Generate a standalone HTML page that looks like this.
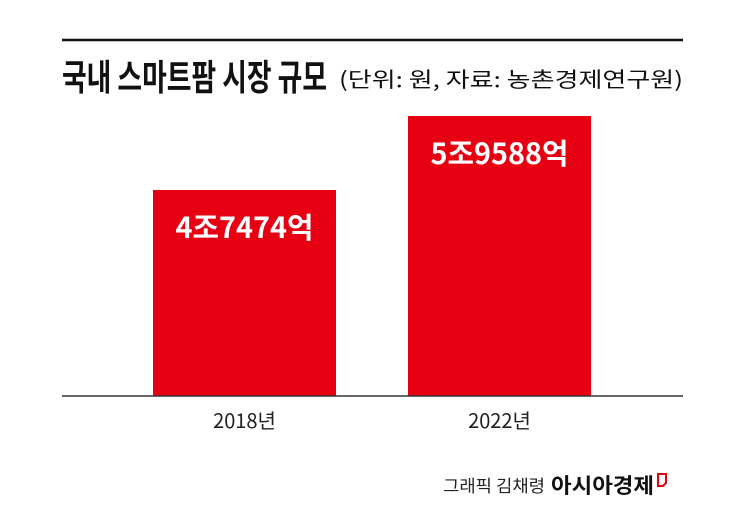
<!DOCTYPE html>
<html><head><meta charset="utf-8"><style>
body{margin:0;background:#fff;width:745px;height:520px;overflow:hidden;font-family:"Liberation Sans","Noto Sans CJK KR",sans-serif}
</style></head><body>
<svg width="745" height="520" xmlns="http://www.w3.org/2000/svg">
<line x1="62" y1="40" x2="683" y2="40" stroke="#111" stroke-width="2.5"/>
<text x="62" y="90" font-size="36" font-weight="bold" fill="#111" textLength="265" lengthAdjust="spacingAndGlyphs" font-family="Noto Sans CJK KR, sans-serif">국내 스마트팜 시장 규모</text>
<text x="339" y="87" font-size="21" fill="#111" textLength="344" lengthAdjust="spacingAndGlyphs" font-family="Noto Sans CJK KR, sans-serif">(단위: 원, 자료: 농촌경제연구원)</text>
<g id="bars"></g>
<line x1="62" y1="396" x2="683" y2="396" stroke="#333" stroke-width="1.5"/>
<text x="443" y="492" font-size="17" fill="#222" font-family="Noto Sans CJK KR, sans-serif" textLength="102" lengthAdjust="spacingAndGlyphs">그래픽 김채령</text>
<text x="551" y="493" font-size="21" font-weight="bold" fill="#111" font-family="Noto Sans CJK KR, sans-serif" textLength="103" lengthAdjust="spacingAndGlyphs">아시아경제</text>
<path d="M658 474 h8 v9 l-3 3 h-5 z" fill="none" stroke="#e60012" stroke-width="2"/>
</svg>
<script>
const categories=["2018년","2022년"];
const values=[47474,59588];
const valueLabels=["4조7474억","5조9588억"];
const baseY=396, v0=13752, k=0.006109;
const y=v=>baseY-k*(v-v0);
const xs=i=>153+i*255;
const g=document.getElementById('bars');
const ns="http://www.w3.org/2000/svg";
values.forEach((v,i)=>{
  const r=document.createElementNS(ns,'rect');
  r.setAttribute('x',xs(i));r.setAttribute('y',y(v));r.setAttribute('width',183);r.setAttribute('height',baseY-y(v));r.setAttribute('fill','#e60012');
  
  
  g.appendChild(r);
  const t=document.createElementNS(ns,'text');
  t.setAttribute('x',xs(i)+91.5);t.setAttribute('y',y(v)+48);t.setAttribute('text-anchor','middle');t.setAttribute('font-size','29');t.setAttribute('font-weight','bold');t.setAttribute('fill','#fff');t.setAttribute('font-family','Noto Sans CJK KR, sans-serif');
  t.setAttribute('textLength','138');t.setAttribute('lengthAdjust','spacingAndGlyphs');
  t.textContent=valueLabels[i];
  
  
  g.appendChild(t);
  const c=document.createElementNS(ns,'text');
  c.setAttribute('x',xs(i)+91.5);c.setAttribute('y',428);c.setAttribute('text-anchor','middle');c.setAttribute('font-size','20');c.setAttribute('fill','#222');c.setAttribute('font-family','Noto Sans CJK KR, sans-serif');
  c.textContent=categories[i];
  
  
  g.appendChild(c);
});
</script>
</body></html>
